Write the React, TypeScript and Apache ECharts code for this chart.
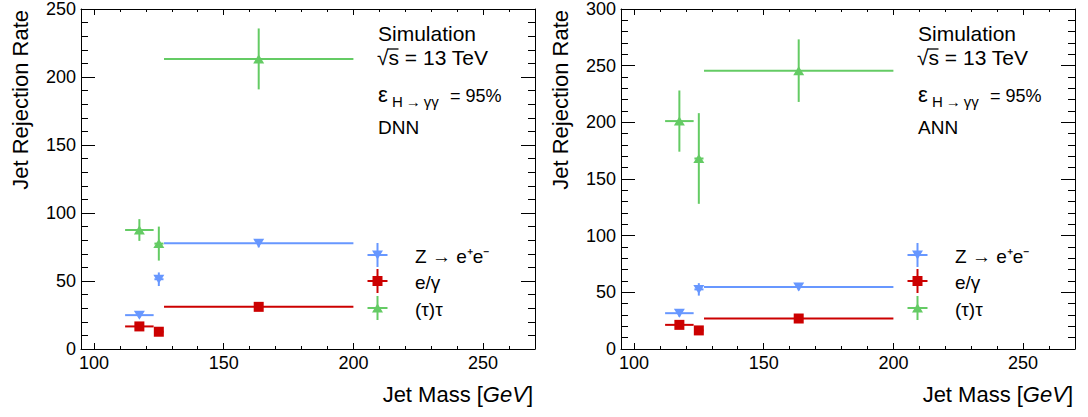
import React, { useEffect, useRef } from "react";
import * as echarts from "echarts";

// ---- data ----
const massLow = [112, 123.3, 127];
const massHigh = [123, 126.8, 200];
const massCenter = [117.5, 125, 163.5];

const dnnZee = [24.9, 51.3, 77.7];
const dnnZeeErr = [2, 5, 3];
const dnnEgamma = [16.6, 12.7, 31.0];
const dnnEgammaErr = [1.5, 1.5, 1.5];
const dnnTau = [87.5, 77.5, 213.3];
const dnnTauErr = [8, 12.5, 22.4];

const annZee = [31.6, 52.6, 54.7];
const annZeeErr = [3, 5.5, 3];
const annEgamma = [21.3, 16.4, 26.9];
const annEgammaErr = [1.5, 1.5, 1.5];
const annTau = [201.1, 168.1, 245.6];
const annTauErr = [27, 40, 27.6];

const xMajorTicks = [100, 150, 200, 250];
const xMinorTicks = [110, 120, 130, 140, 160, 170, 180, 190, 210, 220, 230, 240, 260];
const xMin = 95;
const xMax = 270;
const dnnYMax = 250;
const annYMax = 300;
const yInterval = 50;

const legendLabels = ["Z \u2192 e\u207Ae\u207B", "e/\u03B3", "(\u03C4)\u03C4"];
const panelNames = ["DNN", "ANN"];

const BLUE = "#6797ff";
const RED = "#cc0000";
const GREEN = "#64cb64";
const FONT = "'Liberation Sans', Arial, Helvetica, sans-serif";

export default function App() {
  const ref = useRef<HTMLDivElement>(null);

  useEffect(() => {
    if (!ref.current) return;
    const chart = echarts.init(ref.current, undefined, { renderer: "svg" });

    const gridLefts = [81, 621];
    const gridTop = 9;
    const gridW = 454;
    const gridH = 340;

    const errData = (vals: number[], errs: number[]) =>
      vals.map((v, i) => [massCenter[i], v, massLow[i], massHigh[i], v - errs[i], v + errs[i]]);
    const ptData = (vals: number[]) => vals.map((v, i) => [massCenter[i], v]);

    const renderErr = (color: string) => (params: any, api: any) => {
      const xc = api.value(0);
      const y = api.value(1);
      const pL = api.coord([api.value(2), y]);
      const pH = api.coord([api.value(3), y]);
      const pB = api.coord([xc, api.value(4)]);
      const pT = api.coord([xc, api.value(5)]);
      return {
        type: "group",
        children: [
          { type: "line", shape: { x1: pL[0], y1: pL[1], x2: pH[0], y2: pH[1] }, style: { stroke: color, lineWidth: 2 } },
          { type: "line", shape: { x1: pB[0], y1: pB[1], x2: pT[0], y2: pT[1] }, style: { stroke: color, lineWidth: 2 } },
        ],
      };
    };

    const xAxes: any[] = [];
    const yAxes: any[] = [];
    const grids: any[] = [];
    const series: any[] = [];
    const graphics: any[] = [];

    const axisLineStyle = { color: "#000", width: 1 };
    const labelStyle = { color: "#000", fontSize: 18, fontFamily: FONT };

    const panels = [
      { yMax: dnnYMax, zee: dnnZee, zeeE: dnnZeeErr, eg: dnnEgamma, egE: dnnEgammaErr, tau: dnnTau, tauE: dnnTauErr },
      { yMax: annYMax, zee: annZee, zeeE: annZeeErr, eg: annEgamma, egE: annEgammaErr, tau: annTau, tauE: annTauErr },
    ];

    panels.forEach((p, g) => {
      grids.push({ left: gridLefts[g], top: gridTop, width: gridW, height: gridH });
      const xBase = xAxes.length;
      const yBase = yAxes.length;
      const xCommon = { gridIndex: g, type: "value", min: xMin, max: xMax, splitLine: { show: false } };
      xAxes.push({
        ...xCommon, position: "bottom",
        axisLine: { show: true, lineStyle: axisLineStyle },
        axisTick: { show: true, inside: true, length: 6, customValues: xMajorTicks, lineStyle: axisLineStyle },
        axisLabel: { show: true, customValues: xMajorTicks, margin: 5, ...labelStyle },
      });
      xAxes.push({
        ...xCommon, position: "bottom",
        axisLine: { show: false },
        axisTick: { show: true, inside: true, length: 3, customValues: xMinorTicks, lineStyle: axisLineStyle },
        axisLabel: { show: false, customValues: xMinorTicks },
      });
      xAxes.push({
        ...xCommon, position: "top",
        axisLine: { show: true, lineStyle: axisLineStyle },
        axisTick: { show: true, inside: true, length: 6, customValues: xMajorTicks, lineStyle: axisLineStyle },
        axisLabel: { show: false, customValues: xMajorTicks },
      });
      xAxes.push({
        ...xCommon, position: "top",
        axisLine: { show: false },
        axisTick: { show: true, inside: true, length: 3, customValues: xMinorTicks, lineStyle: axisLineStyle },
        axisLabel: { show: false, customValues: xMinorTicks },
      });
      const yCommon = {
        gridIndex: g, type: "value", min: 0, max: p.yMax, interval: yInterval,
        splitLine: { show: false },
        axisLine: { show: true, lineStyle: axisLineStyle },
        axisTick: { show: true, inside: true, length: 14, lineStyle: axisLineStyle },
        minorTick: { show: true, splitNumber: 5, length: 7, lineStyle: axisLineStyle },
      };
      yAxes.push({ ...yCommon, position: "left", axisLabel: { show: true, margin: 5, ...labelStyle } });
      yAxes.push({ ...yCommon, position: "right", axisLabel: { show: false } });

      const sets = [
        { vals: p.zee, errs: p.zeeE, color: BLUE, symbol: "triangle", rot: 180, size: [11, 9] },
        { vals: p.eg, errs: p.egE, color: RED, symbol: "rect", rot: 0, size: [10, 10] },
        { vals: p.tau, errs: p.tauE, color: GREEN, symbol: "triangle", rot: 0, size: [11, 9] },
      ];
      sets.forEach((s) => {
        series.push({
          type: "custom", xAxisIndex: xBase, yAxisIndex: yBase, data: errData(s.vals, s.errs),
          encode: { x: 0, y: 1 }, renderItem: renderErr(s.color), z: 2, silent: true,
        });
        series.push({
          type: "scatter", xAxisIndex: xBase, yAxisIndex: yBase, data: ptData(s.vals),
          symbol: s.symbol, symbolRotate: s.rot, symbolSize: s.size,
          itemStyle: { color: s.color, opacity: 1 }, z: 3, silent: true,
        });
      });

      const ox = g * 540;
      // annotations
      graphics.push({ type: "text", x: 378 + ox, y: 33.5, style: { text: "Simulation", font: `21px ${FONT}`, fill: "#000", align: "left", verticalAlign: "middle" } });
      graphics.push({ type: "text", x: 377 + ox, y: 57.5, style: { text: "\u221As = 13 TeV", font: `21px ${FONT}`, fill: "#000", align: "left", verticalAlign: "middle" } });
      graphics.push({ type: "line", shape: { x1: 387.5 + ox, y1: 49, x2: 398.5 + ox, y2: 49 }, style: { stroke: "#000", lineWidth: 1.3 } });
      graphics.push({ type: "text", x: 378 + ox, y: 94, style: { text: "\u03B5", font: `22px ${FONT}`, fill: "#000", align: "left", verticalAlign: "middle" } });
      graphics.push({ type: "text", x: 392 + ox, y: 101.5, style: { text: "H\u2009\u2192\u2009\u03B3\u03B3", font: `15px ${FONT}`, fill: "#000", align: "left", verticalAlign: "middle" } });
      graphics.push({ type: "text", x: 450 + ox, y: 96, style: { text: "= 95%", font: `18px ${FONT}`, fill: "#000", align: "left", verticalAlign: "middle" } });
      graphics.push({ type: "text", x: 378 + ox, y: 127, style: { text: panelNames[g], font: `19px ${FONT}`, fill: "#000", align: "left", verticalAlign: "middle" } });

      // legend
      const rows = [255, 281, 308];
      sets.forEach((s, i) => {
        const cx = 377.5 + ox;
        const cy = rows[i];
        graphics.push({ type: "line", shape: { x1: cx - 10, y1: cy, x2: cx + 10, y2: cy }, style: { stroke: s.color, lineWidth: 2 } });
        graphics.push({ type: "line", shape: { x1: cx, y1: cy - 12, x2: cx, y2: cy + 12 }, style: { stroke: s.color, lineWidth: 2 } });
        if (s.symbol === "rect") {
          graphics.push({ type: "rect", shape: { x: cx - 5, y: cy - 5, width: 10, height: 10 }, style: { fill: s.color } });
        } else if (s.rot === 180) {
          graphics.push({ type: "polygon", shape: { points: [[cx - 5.5, cy - 4.5], [cx + 5.5, cy - 4.5], [cx, cy + 4.5]] }, style: { fill: s.color } });
        } else {
          graphics.push({ type: "polygon", shape: { points: [[cx - 5.5, cy + 4.5], [cx + 5.5, cy + 4.5], [cx, cy - 4.5]] }, style: { fill: s.color } });
        }
        graphics.push({ type: "text", x: 415 + ox, y: cy + 1, style: { text: legendLabels[i], font: `19px ${FONT}`, fill: "#000", align: "left", verticalAlign: "middle" } });
      });

      // axis titles
      graphics.push({
        type: "text", x: 20 + ox, y: 10, rotation: Math.PI / 2,
        style: { text: "Jet Rejection Rate", font: `22px ${FONT}`, fill: "#000", align: "right", verticalAlign: "middle" },
      });
      graphics.push({
        type: "text", x: 533 + ox, y: 394,
        style: {
          text: "{n|Jet Mass [}{i|GeV}{n|]}",
          rich: {
            n: { fontSize: 22, fontFamily: FONT, fill: "#000" },
            i: { fontSize: 22, fontFamily: FONT, fontStyle: "italic", fill: "#000" },
          },
          align: "right", verticalAlign: "middle",
        },
      });
    });

    chart.setOption({
      animation: false,
      backgroundColor: "#fff",
      grid: grids,
      xAxis: xAxes,
      yAxis: yAxes,
      series,
      graphic: graphics,
    });

    return () => chart.dispose();
  }, []);

  return <div ref={ref} style={{ position: "fixed", left: 0, top: 0, width: 1088, height: 417 }} />;
}
